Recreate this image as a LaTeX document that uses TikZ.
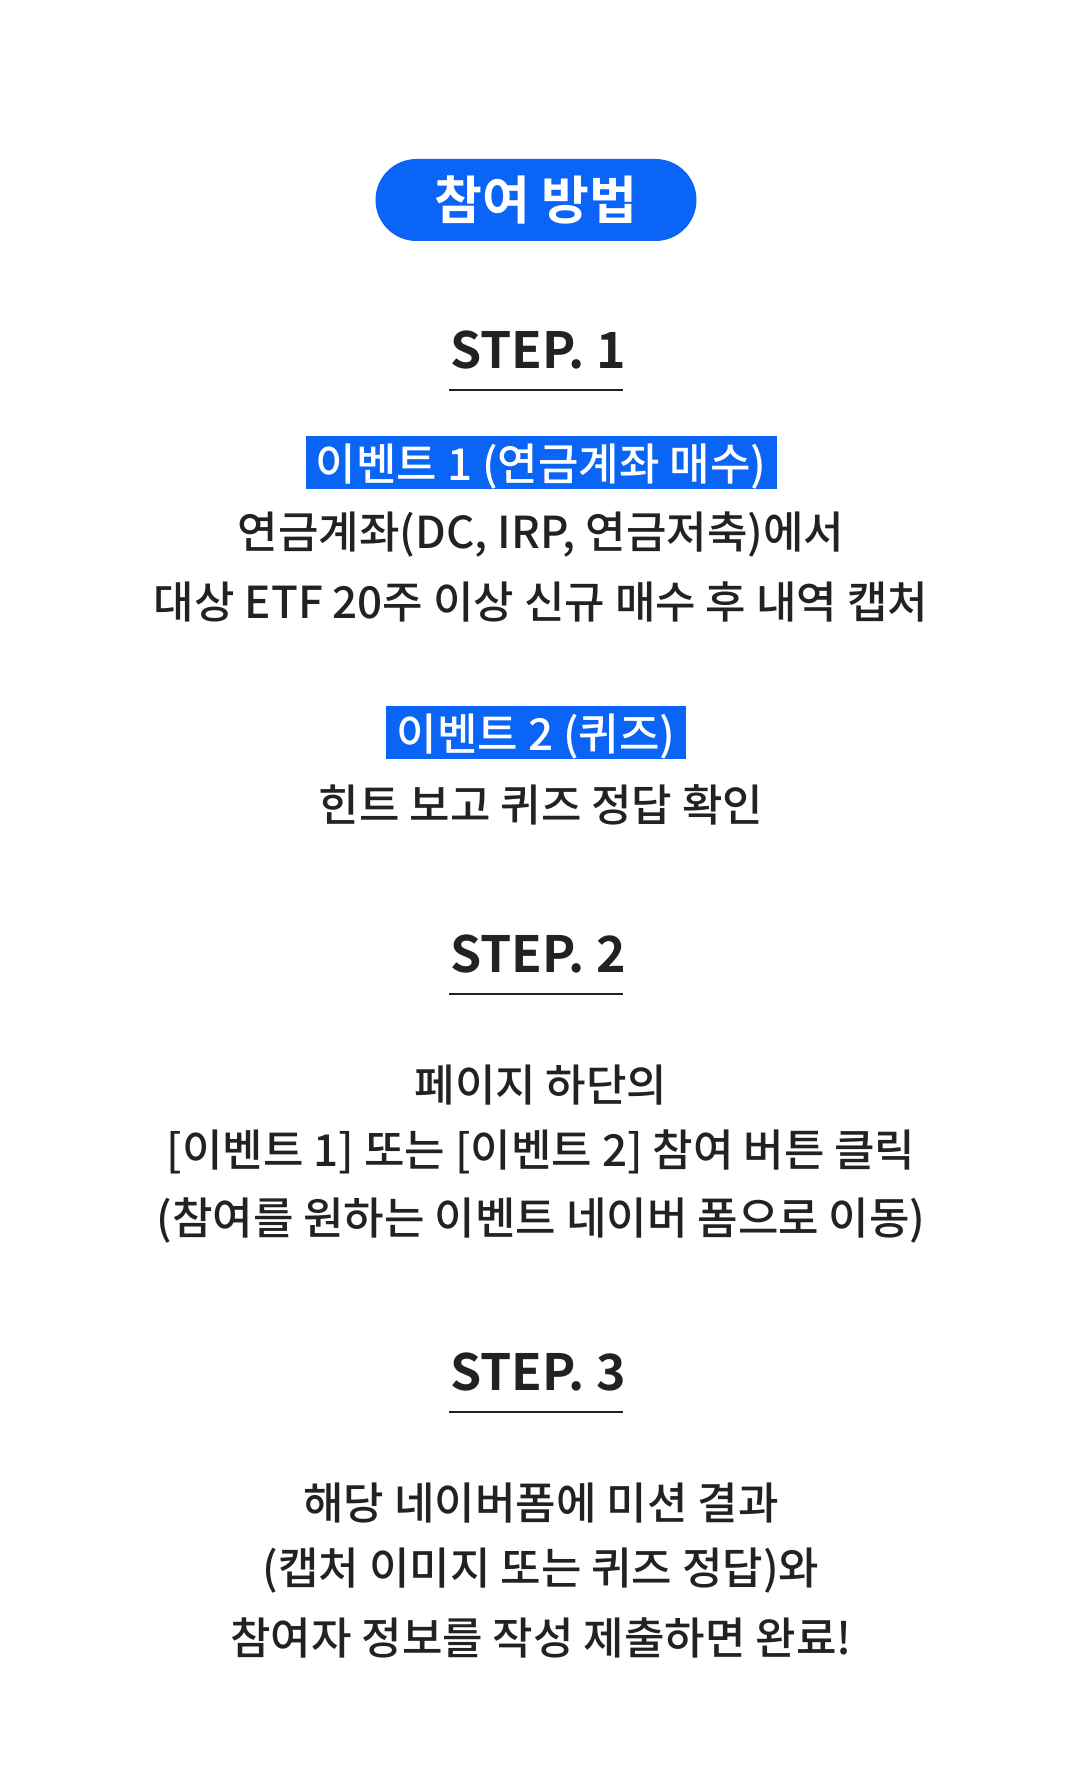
\documentclass[tikz,border=0pt]{standalone}
\usepackage{fontspec}
\setmainfont{Noto Sans CJK KR}[UprightFont=* Medium,BoldFont=* Bold]
\definecolor{bl}{HTML}{0A64F5}
\definecolor{tx}{HTML}{222222}
\begin{document}
\begin{tikzpicture}[x=1pt,y=-1pt,
 ln/.style={font=\fontsize{44}{52}\selectfont,text=tx,inner sep=0},
 hl/.style={fill=bl,inner sep=0},
 st/.style={font=\bfseries\fontsize{50}{60}\selectfont,text=tx,inner sep=0}]
\useasboundingbox (0,0) rectangle (1080,1776);
\node[fill=bl,rounded corners=41pt,minimum width=321pt,minimum height=82pt,text=white,font=\bfseries\fontsize{52}{60}\selectfont] (pill) at (536,200) {참여 방법};
\foreach \n/\y in {1/350,2/954,3/1372}{
 \node[st] (s\n) at (538,\y) {STEP. \n};
 \draw[tx,line width=1.8pt] (449,\y+40) -- (623,\y+40);
}
\node[hl,minimum width=471pt,minimum height=53pt] (h1) at (541,462) {};
\node[font=\fontsize{44}{52}\selectfont,text=white,inner sep=0] (h1t) at (541,467) {이벤트 1 (연금계좌 매수)};
\node[ln] (a1) at (541,535) {연금계좌(DC, IRP, 연금저축)에서};
\node[ln] (a2) at (541,602) {대상 ETF 20주 이상 신규 매수 후 내역 캡처};
\node[hl,minimum width=300pt,minimum height=53pt] (h2) at (536,732) {};
\node[font=\fontsize{44}{52}\selectfont,text=white,inner sep=0] (h2t) at (536,737) {이벤트 2 (퀴즈)};
\node[ln] (b1) at (541,805) {힌트 보고 퀴즈 정답 확인};
\node[ln] (c1) at (541,1085) {페이지 하단의};
\node[ln] (c2) at (541,1152) {[이벤트 1] 또는 [이벤트 2] 참여 버튼 클릭};
\node[ln] (c3) at (541,1220) {(참여를 원하는 이벤트 네이버 폼으로 이동)};
\node[ln] (d1) at (541,1503) {해당 네이버폼에 미션 결과};
\node[ln] (d2) at (541,1571) {(캡처 이미지 또는 퀴즈 정답)와};
\node[ln] (d3) at (541,1638) {참여자 정보를 작성 제출하면 완료!};
\end{tikzpicture}
\end{document}
